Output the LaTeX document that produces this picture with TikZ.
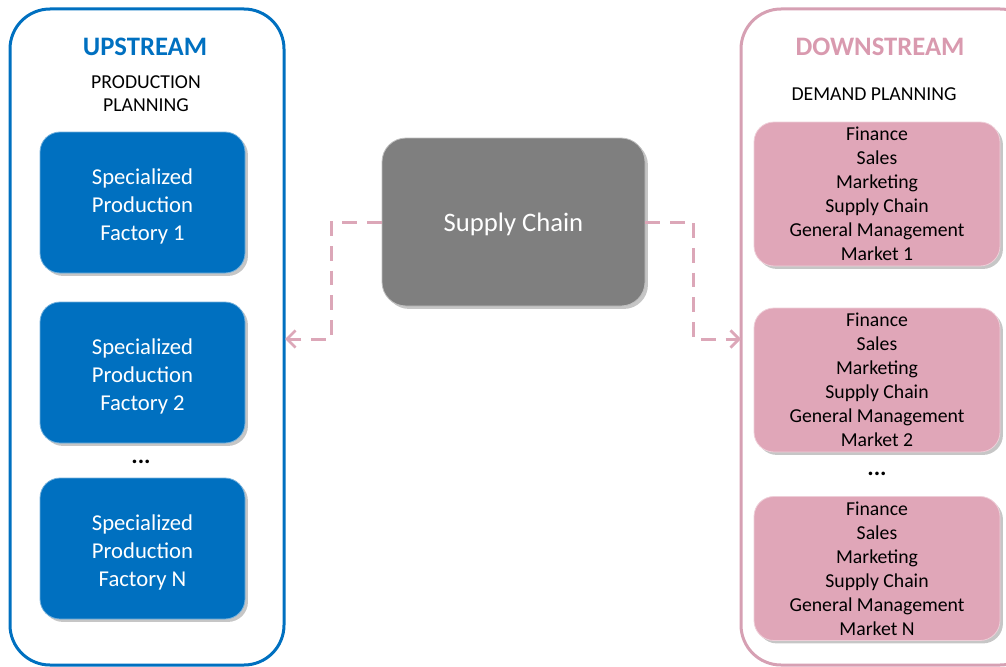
\documentclass[tikz,border=0pt]{standalone}
\usepackage{fontspec}
\setmainfont{Carlito}
\usetikzlibrary{shadows,arrows.meta}
\definecolor{upblue}{HTML}{0070C0}
\definecolor{pinkline}{HTML}{D6A0B3}
\definecolor{pinkfill}{HTML}{E0A6B8}
\definecolor{pinkarrow}{HTML}{DCA7B8}
\definecolor{pinktitle}{HTML}{D99AAF}
\definecolor{scgray}{HTML}{7F7F7F}
\tikzset{
  outerbox/.style={line width=2.25pt, rounded corners=30pt},
  factory/.style={rounded corners=15pt, fill=upblue, draw=upblue!55!white, line width=0.6pt,
    minimum width=153.75pt, minimum height=105.75pt,
    drop shadow={shadow xshift=2.2pt, shadow yshift=-2.2pt, opacity=0.45}},
  factorytext/.style={text=white, align=center, yshift=-3pt,
    font=\fontsize{17}{21}\selectfont},
  market/.style={rounded corners=15pt, fill=pinkfill, draw=pinkfill!55!white, line width=0.6pt,
    minimum width=184.5pt, minimum height=108pt, text=black, align=center,
    font=\fontsize{14.8}{18}\selectfont,
    drop shadow={shadow xshift=2.2pt, shadow yshift=-2.2pt, opacity=0.45}},
  central/.style={rounded corners=18pt, fill=scgray, draw=scgray!50!white, line width=0.6pt,
    minimum width=197.25pt, minimum height=126pt,
    drop shadow={shadow xshift=2.2pt, shadow yshift=-2.2pt, opacity=0.45}},
  centraltext/.style={text=white, yshift=-1.5pt, font=\fontsize{20}{24}\selectfont},
  conn/.style={draw=pinkarrow, line width=2.25pt, dash pattern=on 11pt off 7.5pt,
    -{Straight Barb[length=6.5pt,width=13pt,line width=2pt]}},
  plain/.style={font=\fontsize{14.8}{17.25}\selectfont, align=center, text=black},
  title/.style={font=\fontsize{20}{24}\selectfont\bfseries},
  dots/.style={font=\fontsize{18}{20}\selectfont\bfseries}
}
\begin{document}
\begin{tikzpicture}[x=0.75pt,y=-0.75pt]
\useasboundingbox (0,0) rectangle (1006,667);
% outer boxes
\draw[outerbox, draw=upblue] (10,9) rectangle (284,665);
\draw[outerbox, draw=pinkline] (741,9) rectangle (1040,665);
% titles
\node[title, text=upblue] (upt) at (145,47) {UPSTREAM};
\node[plain] (ppl) at (146,94) {PRODUCTION\\PLANNING};
\node[title, text=pinktitle] (dnt) at (880,47) {DOWNSTREAM};
\node[plain] (dpl) at (874,94) {DEMAND PLANNING};
% factories
\node[factory, label={[factorytext]center:Specialized\\Production\\Factory 1}] (f1) at (142.5,202.5) {};
\node[factory, label={[factorytext]center:Specialized\\Production\\Factory 2}] (f2) at (142.5,372.5) {};
\node[dots] (d1) at (141,462) {...};
\node[factory, label={[factorytext]center:Specialized\\Production\\Factory N}] (f3) at (142.5,548.5) {};
% markets
\node[market] (m1) at (877,194) {Finance\\Sales\\Marketing\\Supply Chain\\General Management\\Market 1};
\node[market] (m2) at (877,380) {Finance\\Sales\\Marketing\\Supply Chain\\General Management\\Market 2};
\node[dots] (d2) at (877,474) {...};
\node[market] (m3) at (877,568.5) {Finance\\Sales\\Marketing\\Supply Chain\\General Management\\Market N};
% central
\node[central, label={[centraltext]center:Supply Chain}] (sc) at (513.5,222) {};
% connectors
\coordinate (la) at (285,339);
\coordinate (ra) at (741,339);
\draw[conn] (sc.west) -- ++(-50,0) |- (la);
\draw[conn] (sc.east) -- ++(48,0) |- (ra);
\end{tikzpicture}
\end{document}
